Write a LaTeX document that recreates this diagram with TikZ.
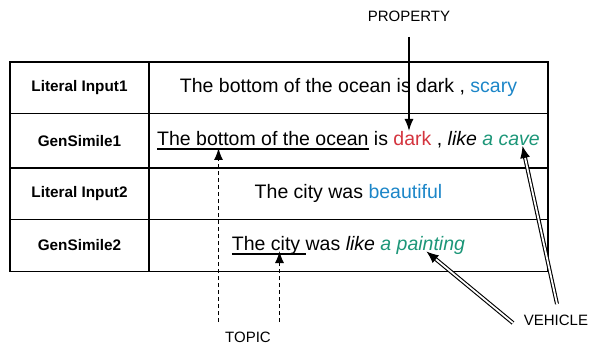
\documentclass[tikz,border=0pt]{standalone}
\usepackage{fontspec}
\setmainfont{Liberation Sans}
\usetikzlibrary{arrows.meta,calc}
\definecolor{cblue}{RGB}{28,134,200}
\definecolor{cred}{RGB}{212,52,62}
\definecolor{cgreen}{RGB}{28,150,120}
\newcommand\myul[1]{\setbox0\hbox{#1}\rlap{\rule[-4.5pt]{\wd0}{1.7pt}}\box0{}}
\tikzset{
  cell/.style={draw, line width=1.4pt, inner sep=0pt, anchor=center},
  lab/.style={cell, minimum width=139pt, font=\fontsize{15.3}{18}\selectfont\bfseries},
  txt/.style={cell, minimum width=399pt, font=\fontsize{19.5}{23}\selectfont},
  tag/.style={inner sep=0pt, font=\fontsize{15}{18}\selectfont},
  solidarr/.style={line width=1.5pt, -{Latex[length=12pt,width=9pt]}},
  dasharr/.style={line width=1.5pt, dash pattern=on 4pt off 3pt, -{Latex[length=12pt,width=9pt]}},
  dblline/.style={double, double distance=1.8pt, line width=1.1pt},
  dblhead/.style={line width=1pt, -{Latex[length=12pt,width=10pt]}}
}
\begin{document}
\begin{tikzpicture}[x=1pt,y=-1pt]
\useasboundingbox (0,0) rectangle (590,345);
% label column
\node[lab, minimum height=51.5pt] (l1) at (79.5,87.75) {Literal Input1};
\node[lab, minimum height=54.5pt] (l2) at (79.5,140.75) {GenSimile1};
\node[lab, minimum height=51.5pt] (l3) at (79.5,193.75) {Literal Input2};
\node[lab, minimum height=52pt] (l4) at (79.5,245.5) {GenSimile2};
% text column
\node[txt, minimum height=51.5pt] (t1) at (348.5,87.75) {The bottom of the ocean is dark , \textcolor{cblue}{scary}};
\node[txt, minimum height=54.5pt] (t2) at (348.5,140.75) {\myul{The bottom of the ocean} is \textcolor{cred}{dark} , \textit{like} \textcolor{cgreen}{\textit{a cave}}};
\node[txt, minimum height=51.5pt] (t3) at (348.5,193.75) {The city was \textcolor{cblue}{beautiful}};
\node[txt, minimum height=52pt] (t4) at (348.5,245.5) {\myul{The city\ }was \textit{like} \textcolor{cgreen}{\textit{a painting}}};
% tags
\node[tag] (prop) at (409,16) {PROPERTY};
\node[tag] (topic) at (248,337.5) {TOPIC};
\node[tag] (veh) at (556,320) {VEHICLE};
% property arrow
\coordinate (pA) at (409,37);
\coordinate (pB) at (409,131);
\draw[solidarr] (pA) -- (pB);
% topic arrows
\coordinate (tA1) at (218.5,322);
\coordinate (tB1) at (218.5,148);
\coordinate (tA2) at (279.5,322);
\coordinate (tB2) at (279.5,251);
\draw[dasharr] (tA1) -- (tB1);
\draw[dasharr] (tA2) -- (tB2);
% vehicle arrows
\coordinate (vA1) at (557,304);
\coordinate (vB1) at (522.5,146);
\coordinate (vA2) at (513,323);
\coordinate (vB2) at (426.5,251.5);
\draw[dblline, shorten >=10pt] (vA1) -- (vB1);
\draw[dblhead] ($(vB1)!12pt!(vA1)$) -- (vB1);
\draw[dblline, shorten >=10pt] (vA2) -- (vB2);
\draw[dblhead] ($(vB2)!12pt!(vA2)$) -- (vB2);
\end{tikzpicture}
\end{document}
